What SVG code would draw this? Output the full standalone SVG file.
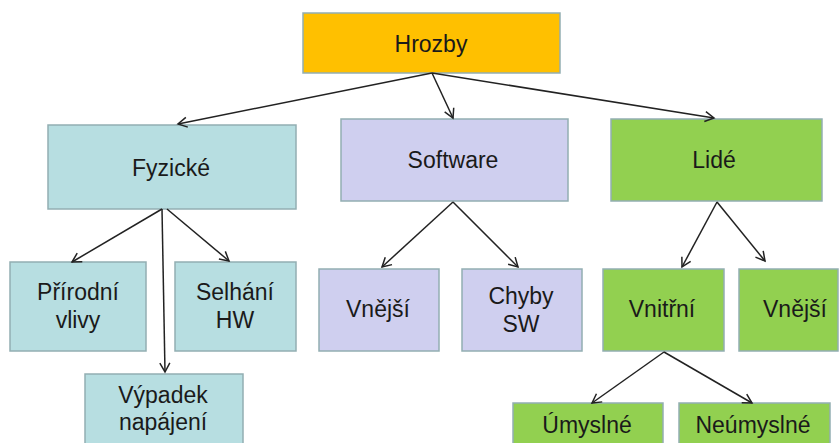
<svg xmlns="http://www.w3.org/2000/svg" width="840" height="443" viewBox="0 0 840 443">
<defs>
<marker id="arr" markerWidth="12" markerHeight="12" refX="10" refY="6" orient="auto" markerUnits="userSpaceOnUse">
<path d="M1,1 L10,6 L1,11" fill="none" stroke="#222" stroke-width="1.5"/>
</marker>
<style>
.box{stroke:#93AEB2;stroke-width:1.5}
.org{fill:#FFC000}
.cyan{fill:#B7DEE1}
.lav{fill:#CFCFEF}
.grn{fill:#92D050}
text{font-family:"Liberation Sans",Arial,sans-serif;font-size:23px;fill:#1a1a1a;text-anchor:middle}
.conn line{stroke:#222;stroke-width:1.5;marker-end:url(#arr)}
</style>
</defs>
<rect width="840" height="443" fill="#fff"/>
<g id="hrozby"><rect class="box org" x="303" y="13" width="257" height="60"/><text x="431" y="52">Hrozby</text></g>
<g id="fyzicke"><rect class="box cyan" x="48" y="125" width="248" height="84"/><text x="171" y="176">Fyzické</text></g>
<g id="software"><rect class="box lav" x="341" y="119" width="227" height="82"/><text x="453" y="168">Software</text></g>
<g id="lide"><rect class="box grn" x="611" y="119" width="211" height="82"/><text x="714" y="168">Lidé</text></g>
<g id="prirodni"><rect class="box cyan" x="10" y="262" width="136" height="89"/><text x="78" y="300">Přírodní</text><text x="78" y="328">vlivy</text></g>
<g id="selhani"><rect class="box cyan" x="175" y="262" width="121" height="89"/><text x="235" y="300">Selhání</text><text x="235" y="328">HW</text></g>
<g id="vypadek"><rect class="box cyan" x="85" y="374" width="158" height="75"/><text x="163" y="403">Výpadek</text><text x="163" y="430">napájení</text></g>
<g id="vnejsi-sw"><rect class="box lav" x="319" y="269" width="120" height="82"/><text x="378" y="317">Vnější</text></g>
<g id="chyby"><rect class="box lav" x="462" y="269" width="120" height="82"/><text x="521" y="304">Chyby</text><text x="521" y="332">SW</text></g>
<g id="vnitrni"><rect class="box grn" x="603" y="269" width="121" height="82"/><text x="662" y="317">Vnitřní</text></g>
<g id="vnejsi-lide"><rect class="box grn" x="739" y="269" width="99" height="82"/><text x="795" y="317">Vnější</text></g>
<g id="umyslne"><rect class="box grn" x="513" y="403" width="150" height="50"/><text x="587" y="433">Úmyslné</text></g>
<g id="neumyslne"><rect class="box grn" x="679" y="403" width="151" height="50"/><text x="753" y="433">Neúmyslné</text></g>
<g class="conn" id="connectors">
<line x1="432" y1="73" x2="178" y2="124"/>
<line x1="432" y1="73" x2="453" y2="118"/>
<line x1="432" y1="73" x2="714" y2="118"/>
<line x1="162" y1="209" x2="72" y2="262"/>
<line x1="162" y1="209" x2="165" y2="372"/>
<line x1="167" y1="209" x2="229" y2="261"/>
<line x1="453" y1="202" x2="382" y2="267"/>
<line x1="453" y1="202" x2="518" y2="267"/>
<line x1="717" y1="202" x2="682" y2="267"/>
<line x1="717" y1="202" x2="765" y2="261"/>
<line x1="664" y1="352" x2="592" y2="403"/>
<line x1="664" y1="352" x2="752" y2="403"/>
</g>
</svg>
